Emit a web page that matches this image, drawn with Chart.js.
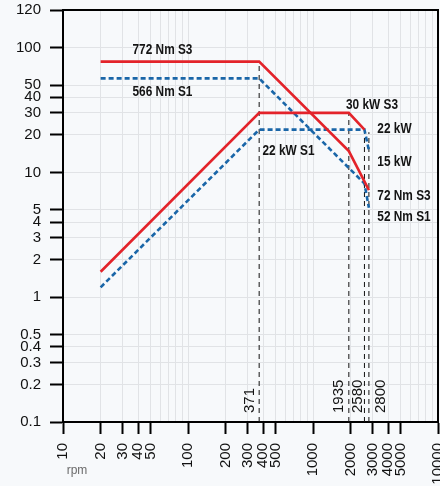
<!DOCTYPE html>
<html><head><meta charset="utf-8">
<script src="https://cdn.jsdelivr.net/npm/chart.js@4/dist/chart.umd.min.js"></script>
<style>html,body{margin:0;padding:0;background:#f7f9fb;}#wrap{width:440px;height:486px;position:relative;}</style>
</head><body><div id="wrap"><canvas id="c"></canvas></div>
<script>
// ---- data ----
const torqueS3Rpm = [20, 371, 1935, 2800];
const torqueS3Val = [77.2, 77.2, 14.8, 7.2];
const torqueS1Rpm = [20, 371, 2580, 2800];
const torqueS1Val = [56.6, 56.6, 8.14, 5.2];
const powerS3Rpm = [20, 371, 1935, 2580];
const powerS3Val = [1.6, 30, 30, 22];
const powerS1Rpm = [20, 371, 2580, 2800];
const powerS1Val = [1.2, 22, 22, 15];
const markerRpm = [371, 1935, 2580, 2800];
const markerTop = [77.2, 30, 22, 21];
const markerLabels = ['371', '1935', '2580', '2800'];
const xTickValues = [10, 20, 30, 40, 50, 100, 200, 300, 400, 500, 1000, 2000, 3000, 4000, 5000, 10000];
const xTickLabels = ['10', '20', '30', '40', '50', '100', '200', '300', '400', '500', '1000', '2000', '3000', '4000', '5000', '10000'];
const yTickValues = [0.1, 0.2, 0.3, 0.4, 0.5, 1, 2, 3, 4, 5, 10, 20, 30, 40, 50, 100, 200];
const yTickLabels = ['0.1', '0.2', '0.3', '0.4', '0.5', '1', '2', '3', '4', '5', '10', '20', '30', '40', '50', '100', '120'];
const annotationText = ['772 Nm S3', '566 Nm S1', '30 kW S3', '22 kW', '15 kW', '72 Nm S3', '52 Nm S1', '22 kW S1'];
const annotationRpm = [62.5, 62.5, 2965, 4487, 4487, 5346, 5346, 637];
const annotationVal = [95.7, 44.1, 34.7, 22.3, 12.1, 6.47, 4.39, 14.8];
const xAxisUnit = 'rpm';

// grid lines at every 1..9 multiple of each decade
const xGridValues = [];
for (let d = 10; d < 10000; d *= 10) for (let m = 1; m < 10; m++) xGridValues.push(d * m);
xGridValues.push(10000);

const RED = '#e3232a', BLUE = '#1a66a8';
const toPts = (xs, ys) => xs.map((x, i) => ({x: x, y: ys[i]}));
const markerOffsets = [-9, -10, -7, 12];

const datasets = [
  {data: toPts(torqueS3Rpm, torqueS3Val), borderColor: RED, borderWidth: 2.6, order: 1},
  {data: toPts(powerS3Rpm, powerS3Val), borderColor: RED, borderWidth: 2.6, order: 1},
  {data: toPts(torqueS1Rpm, torqueS1Val), borderColor: BLUE, borderWidth: 2.6, borderDash: [5, 3], order: 2},
  {data: toPts(powerS1Rpm, powerS1Val), borderColor: BLUE, borderWidth: 2.6, borderDash: [5, 3], order: 2}
];
markerRpm.forEach((r, i) => {
  datasets.push({data: [{x: r, y: 0.1}, {x: r, y: markerTop[i]}], borderColor: '#111', borderWidth: 1, borderDash: [5, 4], order: 5});
});

const overlay = {
  id: 'overlay',
  beforeDraw(chart) {
    const ctx = chart.ctx;
    ctx.save(); ctx.fillStyle = '#f7f9fb'; ctx.fillRect(0, 0, chart.width, chart.height); ctx.restore();
  },
  afterDatasetsDraw(chart) {
    const {ctx, chartArea: a, scales: {x, y}} = chart;
    ctx.save();
    ctx.strokeStyle = '#000'; ctx.lineWidth = 2;
    ctx.beginPath(); ctx.moveTo(a.left - 1, a.top); ctx.lineTo(a.right, a.top); ctx.lineTo(a.right, a.bottom); ctx.stroke();
    ctx.fillStyle = '#141414';
    ctx.font = 'bold 15px "Liberation Sans", Arial, sans-serif';
    ctx.textAlign = 'center'; ctx.textBaseline = 'middle';
    annotationText.forEach((t, i) => {
      ctx.save();
      ctx.translate(x.getPixelForValue(annotationRpm[i]), y.getPixelForValue(annotationVal[i]));
      ctx.scale(0.79, 1);
      ctx.fillText(t, 0, 0);
      ctx.restore();
    });
    ctx.font = '15px "Liberation Sans", Arial, sans-serif';
    ctx.textAlign = 'left';
    markerRpm.forEach((r, i) => {
      ctx.save();
      ctx.translate(x.getPixelForValue(r) + markerOffsets[i], a.bottom - 9);
      ctx.rotate(-Math.PI / 2);
      ctx.fillText(markerLabels[i], 0, 0);
      ctx.restore();
    });
    ctx.font = '12px "Liberation Sans", Arial, sans-serif';
    ctx.fillStyle = '#6b6b6b';
    ctx.textAlign = 'center';
    ctx.fillText(xAxisUnit, x.getPixelForValue(10) + 14, a.bottom + 49);
    ctx.restore();
  }
};

new Chart(document.getElementById('c'), {
  type: 'line',
  data: {datasets: datasets},
  options: {
    responsive: true, maintainAspectRatio: false, animation: false,
    elements: {point: {radius: 0}, line: {tension: 0}},
    layout: {padding: {top: 10, right: 2, left: 0, bottom: 0}},
    plugins: {legend: {display: false}, tooltip: {enabled: false}},
    scales: {
      x: {
        type: 'logarithmic', min: 10, max: 10000,
        afterBuildTicks: s => { s.ticks = xGridValues.map(v => ({value: v})); },
        afterFit: s => { s.height = 64; s.paddingLeft = 0; s.paddingRight = 0; },
        border: {display: true, color: '#000', width: 2},
        grid: {color: '#e1e3e6', lineWidth: 1, tickLength: 12, tickWidth: 2,
          tickColor: c => xTickValues.includes(c.tick.value) ? '#000' : 'rgba(0,0,0,0)'},
        ticks: {autoSkip: false, minRotation: 90, maxRotation: 90, padding: 9, color: '#111',
          font: {family: '"Liberation Sans", Arial, sans-serif', size: 15},
          callback: v => { const i = xTickValues.indexOf(v); return i >= 0 ? xTickLabels[i] : ''; }}
      },
      y: {
        type: 'logarithmic', min: 0.1, max: 200,
        afterBuildTicks: s => { s.ticks = yTickValues.map(v => ({value: v})); },
        afterFit: s => { s.width = 63; s.paddingTop = 0; s.paddingBottom = 0; },
        border: {display: true, color: '#000', width: 2},
        grid: {color: '#e1e3e6', lineWidth: 1, tickLength: 13, tickWidth: 2, tickColor: '#000'},
        ticks: {autoSkip: false, padding: 9, color: '#111',
          font: {family: '"Liberation Sans", Arial, sans-serif', size: 15},
          callback: v => { const i = yTickValues.indexOf(v); return i >= 0 ? yTickLabels[i] : ''; }}
      }
    }
  },
  plugins: [overlay]
});
</script></body></html>
